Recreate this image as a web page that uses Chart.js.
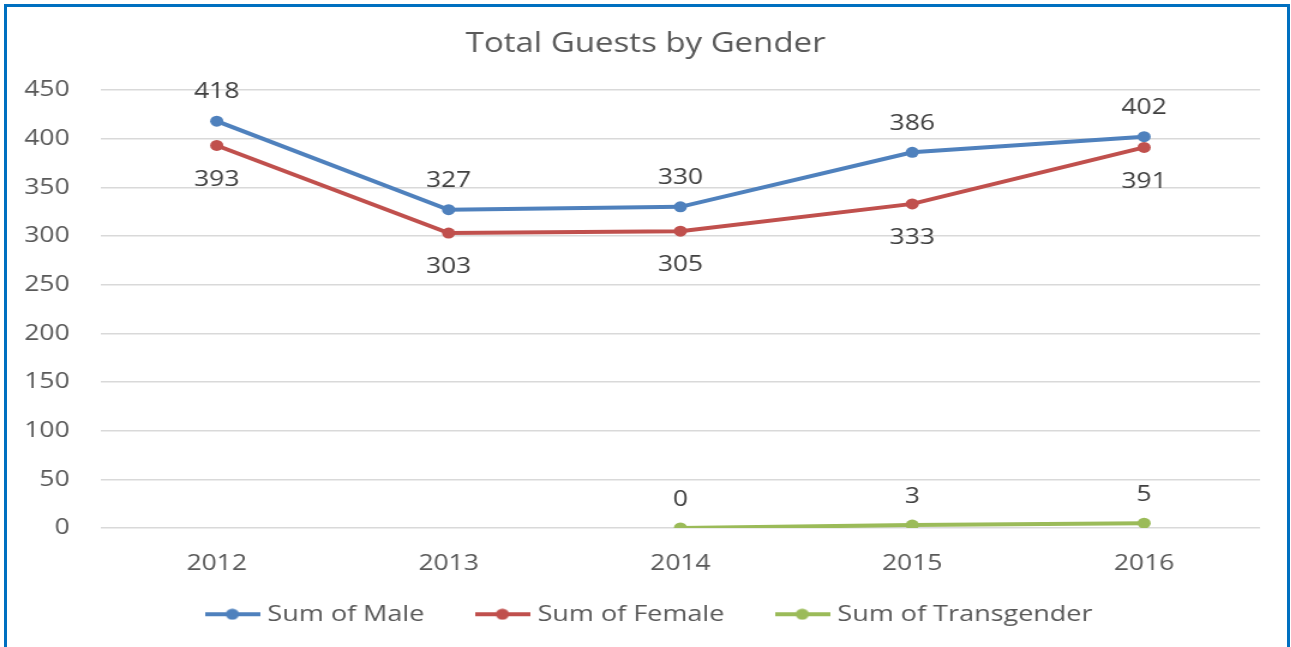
<!DOCTYPE html>
<html lang="en">
  <head>
    <meta charset="UTF-8" />
    <title>Total Guests by Gender</title>
    <script src="https://cdn.jsdelivr.net/npm/chart.js"></script>
    <style>
      body { margin: 0; background: #fff; overflow: hidden; }
      #frame {
        position: absolute; left: 4px; top: 4px; width: 1280px; height: 700px;
        border: 3px solid #0070c0; pointer-events: none; z-index: 2;
      }
      /* the source picture is stretched sideways, so the canvas is too */
      #chart { position: absolute; left: 0; top: 0; transform: scaleX(1.2); transform-origin: 0 0; }
    </style>
  </head>
  <body>
    <div id="frame"></div>
    <canvas id="chart" width="1076" height="647"></canvas>

    <script>
      const years = ["2012", "2013", "2014", "2015", "2016"];
      const male = [418, 327, 330, 386, 402];
      const female = [393, 303, 305, 333, 391];
      const transgender = [null, null, 0, 3, 5];

      const FONT = "'Open Sans', sans-serif";

      // little line-with-dot swatch for the legend
      function swatch(color) {
        const c = document.createElement("canvas");
        c.width = 46;
        c.height = 12;
        const g = c.getContext("2d");
        g.strokeStyle = color;
        g.lineWidth = 4;
        g.beginPath();
        g.moveTo(0, 6);
        g.lineTo(46, 6);
        g.stroke();
        g.fillStyle = color;
        g.beginPath();
        g.arc(23, 6, 5.5, 0, Math.PI * 2);
        g.fill();
        return c;
      }

      // value labels above / below the points
      const valueLabels = {
        id: "valueLabels",
        afterDatasetsDraw(chart) {
          const ctx = chart.ctx;
          ctx.save();
          ctx.font = "22px " + FONT;
          ctx.fillStyle = "#404040";
          ctx.textAlign = "center";
          ctx.textBaseline = "middle";
          chart.data.datasets.forEach((ds, i) => {
            chart.getDatasetMeta(i).data.forEach((pt, j) => {
              const v = ds.data[j];
              if (v === null || v === undefined) return;
              ctx.fillText(String(v), pt.x, pt.y + ds.labelOffset);
            });
          });
          ctx.restore();
        },
      };

      // legend sits a bit closer to the axis labels than chart.js would put it
      const legendNudge = {
        id: "legendNudge",
        afterLayout(chart) {
          const lg = chart.legend;
          lg.top -= 22;
          lg.bottom -= 22;
          lg.left += 5;
          lg.right += 5;
        },
      };

      function series(label, data, color, labelOffset) {
        return {
          label,
          data,
          borderColor: color,
          backgroundColor: color,
          borderWidth: 4,
          pointRadius: 5.5,
          pointHoverRadius: 5.5,
          pointBorderWidth: 0,
          tension: 0,
          labelOffset,
          legendSwatch: swatch(color),
        };
      }

      new Chart(document.getElementById("chart"), {
        type: "line",
        data: {
          labels: years,
          datasets: [
            series("Sum of Male", male, "#4f81bd", -29),
            series("Sum of Female", female, "#c0504d", 34),
            series("Sum of Transgender", transgender, "#9bbb59", -28),
          ],
        },
        options: {
          responsive: false,
          animation: false,
          layout: { padding: { left: 0, right: 0, top: 0, bottom: -10.5 } },
          plugins: {
            title: {
              display: true,
              text: "Total Guests by Gender",
              color: "#595959",
              font: { family: FONT, size: 27.5, weight: "normal" },
              padding: { top: 27.5, bottom: 29.5 },
            },
            legend: {
              position: "bottom",
              labels: {
                color: "#595959",
                font: { family: FONT, size: 22.5 },
                usePointStyle: true,
                pointStyleWidth: 36,
                padding: 47,
                generateLabels(chart) {
                  const items = Chart.defaults.plugins.legend.labels.generateLabels(chart);
                  items.forEach((it) => {
                    it.pointStyle = chart.data.datasets[it.datasetIndex].legendSwatch;
                  });
                  return items;
                },
              },
            },
            tooltip: { enabled: false },
          },
          scales: {
            x: {
              offset: true,
              grid: { display: false },
              border: { display: false },
              ticks: { color: "#595959", font: { family: FONT, size: 22 }, padding: 15 },
              afterFit(scale) { scale.height = 50; },
            },
            y: {
              min: 0,
              max: 450,
              grid: { color: "#d9d9d9", lineWidth: 1.5, drawTicks: false },
              border: { display: false },
              ticks: { stepSize: 50, color: "#595959", font: { family: FONT, size: 22 }, padding: 26 },
              afterFit(scale) { scale.width = 84; },
            },
            // empty right-hand strip so the title and legend stay centred on the canvas
            yRight: {
              position: "right",
              grid: { display: false },
              border: { display: false },
              ticks: { display: false },
              afterFit(scale) { scale.width = 26; },
            },
          },
        },
        plugins: [valueLabels, legendNudge],
      });
    </script>
  </body>
</html>
